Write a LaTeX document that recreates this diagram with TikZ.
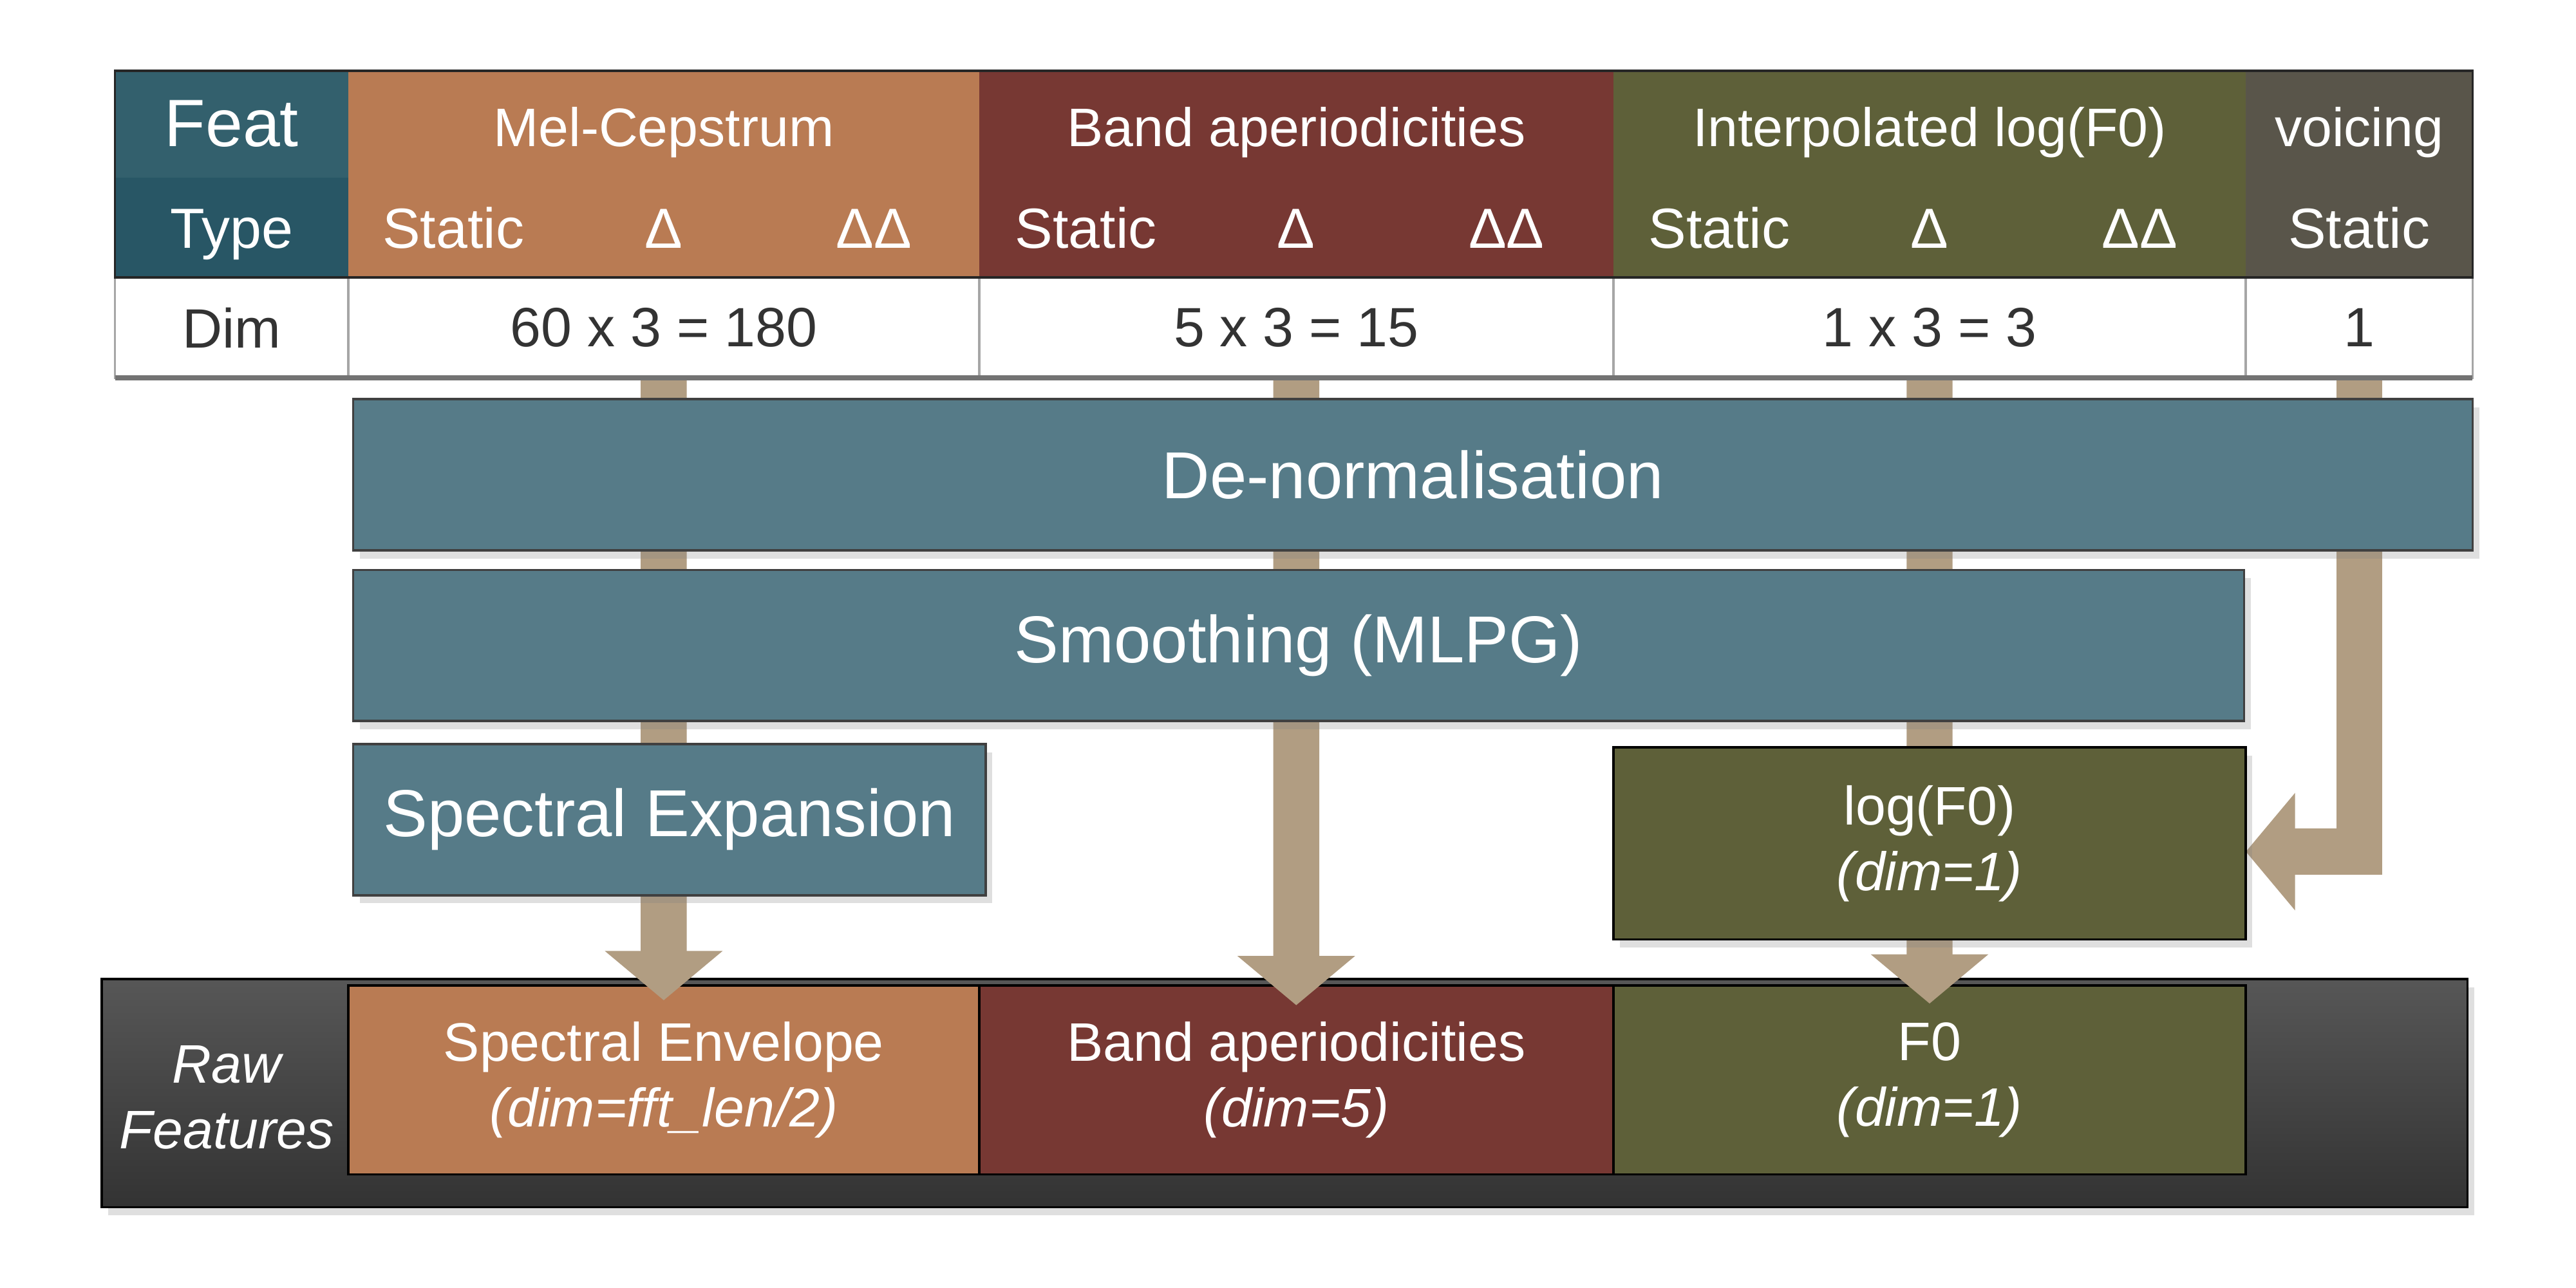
\documentclass[tikz,border=0pt]{standalone}
\usepackage{fontspec}
\setmainfont{Liberation Sans}
\usepackage{xcolor}
\usepackage{tikz}
\usetikzlibrary{positioning}
\usetikzlibrary{arrows.meta,shadows}
\definecolor{featblue}{HTML}{33606D}
\definecolor{typeblue}{HTML}{285665}
\definecolor{melbrown}{HTML}{B97B53}
\definecolor{bapred}{HTML}{773833}
\definecolor{lfolive}{HTML}{5E6039}
\definecolor{voigrey}{HTML}{59554A}
\definecolor{procblue}{HTML}{567B88}
\definecolor{arrowtan}{HTML}{B19D82}
\definecolor{dimtext}{HTML}{333333}
\tikzset{flow/.style = {draw=arrowtan, line width=0.28cm, -{Triangle[width=0.70cm,length=0.30cm]}}}
\pgfdeclarelayer{back}
\pgfdeclarelayer{mid}
\pgfsetlayers{back,mid,main}

\begin{document}
\begin{tikzpicture}[node distance=0pt,
    every node/.style={inner sep=0pt,outer sep=0pt,text=white,align=center},
    feat node/.style={rectangle,minimum width=1.42cm},
    group node/.style={rectangle,minimum height=1.26cm},
    grouptitle/.style={anchor=base,font=\fontsize{9.4pt}{11pt}\selectfont},
    subhead/.style={anchor=base,font=\fontsize{9.8pt}{12pt}\selectfont},
    dim node/.style={rectangle,fill=white,draw=gray!70,text=dimtext,minimum height=0.61cm,font=\fontsize{9.6pt}{11pt}\selectfont},
    proc node/.style={rectangle,fill=procblue,draw=black!75,minimum height=0.92cm,font=\fontsize{11.5pt}{13pt}\selectfont,
        drop shadow={opacity=0.25,shadow xshift=0.04cm,shadow yshift=-0.05cm}},
    raw node/.style={rectangle,draw=black,minimum height=1.15cm,font=\fontsize{9.4pt}{11.4pt}\selectfont}]

    \useasboundingbox (0,0) rectangle (15.68,-7.84);

    % feature table
    \node[feat node,fill=featblue,minimum height=0.65cm,font=\fontsize{11.6pt}{13pt}\selectfont] (feat) at (1.41,-0.755) {Feat};
    \node[feat node,fill=typeblue,minimum height=0.61cm] (type) [below=of feat] {};
    \node[subhead] at ([yshift=-1.08cm]feat.north) {Type};
    \node[feat node,dim node] (dim) [below=of type] {Dim};

    \node[group node,fill=melbrown,minimum width=3.84cm,anchor=north west] (mel) at (feat.north east) {};
    \node[group node,fill=bapred,minimum width=3.86cm] (bap) [right=of mel] {};
    \node[group node,fill=lfolive,minimum width=3.85cm] (lf) [right=of bap] {};
    \node[group node,fill=voigrey,minimum width=1.38cm] (voice) [right=of lf] {};

    \foreach \g/\name in {mel/Mel-Cepstrum,bap/Band aperiodicities,lf/Interpolated log(F0)} {
        \node[grouptitle] at ([yshift=-0.46cm]\g.north) {\name};
        \node[subhead] at ([xshift=-1.28cm,yshift=-1.08cm]\g.north) {Static};
        \node[subhead] at ([yshift=-1.08cm]\g.north) {Δ};
        \node[subhead] at ([xshift=1.28cm,yshift=-1.08cm]\g.north) {ΔΔ};
    }
    \node[grouptitle] at ([yshift=-0.46cm]voice.north) {voicing};
    \node[subhead] at ([yshift=-1.08cm]voice.north) {Static};

    \node[dim node,minimum width=3.84cm] (meldim) [right=of dim] {60 x 3 = 180};
    \node[dim node,minimum width=3.86cm] (bapdim) [right=of meldim] {5 x 3 = 15};
    \node[dim node,minimum width=3.85cm] (lfdim) [right=of bapdim] {1 x 3 = 3};
    \node[dim node,minimum width=1.38cm] (vodim) [right=of lfdim] {1};
    \draw[black!85] (feat.north west) rectangle (voice.south east);
    \draw[black!55,line width=0.8pt] (dim.south west) -- (vodim.south east);

    % processing steps
    \node[proc node,minimum width=12.90cm,anchor=north west] (denorm) at (2.15,-2.43) {De-normalisation};
    \node[proc node,minimum width=11.51cm] (smooth) [below=0.12cm of denorm.south west,anchor=north west] {Smoothing (MLPG)};
    \node[proc node,minimum width=3.85cm] (specexp) [below=0.14cm of smooth.south west,anchor=north west] {Spectral Expansion};
    \node[proc node,fill=lfolive,draw=black,minimum width=3.85cm,minimum height=1.17cm,font=\fontsize{9.4pt}{11.4pt}\selectfont,anchor=north west]
        (logf0) at (9.82,-4.55) {log(F0)\\\textit{(dim=1)}};

    % raw features
    \begin{pgfonlayer}{back}
        \node[rectangle,draw=black,minimum width=14.40cm,minimum height=1.39cm,top color=black!66,bottom color=black!80,
            drop shadow={opacity=0.25,shadow xshift=0.04cm,shadow yshift=-0.05cm},anchor=north west] (rawband) at (0.62,-5.96) {};
        \node[font=\fontsize{9.4pt}{11.4pt}\selectfont\itshape] (rawlab) at (1.38,-6.68) {Raw\\Features};
        \node[raw node,fill=melbrown,minimum width=3.84cm,anchor=north west] (specenv) at (2.12,-6.00) {Spectral Envelope\\\textit{(dim=fft\_len/2)}};
        \node[raw node,fill=bapred,minimum width=3.86cm] (bapraw) [right=of specenv] {Band aperiodicities\\\textit{(dim=5)}};
        \node[raw node,fill=lfolive,minimum width=3.85cm] (f0raw) [right=of bapraw] {F0\\\textit{(dim=1)}};
    \end{pgfonlayer}

    % flows
    \begin{pgfonlayer}{mid}
        \draw[flow] (meldim.south) -- ([yshift=-0.09cm]specenv.north);
        \draw[flow] (bapdim.south) -- ([yshift=-0.12cm]bapraw.north);
        \draw[flow] (lfdim.south) -- ([yshift=-0.11cm]f0raw.north);
        \draw[flow] (vodim.south) |- ([yshift=-0.05cm]logf0.east);
    \end{pgfonlayer}
\end{tikzpicture}
\end{document}
